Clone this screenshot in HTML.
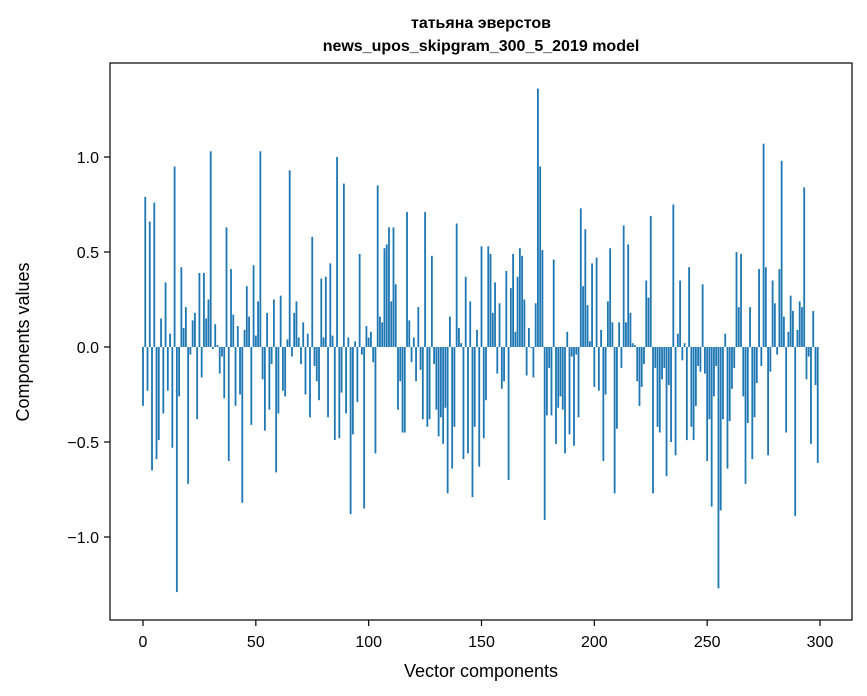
<!DOCTYPE html>
<html><head><meta charset="utf-8"><style>
html,body{margin:0;padding:0;background:#fff;}
svg{display:block;font-family:"Liberation Sans","DejaVu Sans",sans-serif;}
</style></head><body>
<svg id="chart" width="867" height="696" viewBox="0 0 867 696">
<text x="481" y="28" text-anchor="middle" font-size="16" font-weight="bold">татьяна эверстов</text>
<text x="481" y="51" text-anchor="middle" font-size="16" font-weight="bold">news_upos_skipgram_300_5_2019 model</text>
<g id="bars"></g>
<rect x="110" y="63" width="742" height="557" fill="none" stroke="#000" stroke-width="1.2"/>
<g id="xticks"></g>
<g id="yticks"></g>
<text x="481" y="677" text-anchor="middle" font-size="18">Vector components</text>
<text transform="translate(29,342) rotate(-90)" text-anchor="middle" font-size="18">Components values</text>
</svg>
<script>
const values = [
-0.31,0.79,-0.23,0.66,-0.65,0.76,-0.59,-0.49,0.15,-0.35,
0.34,-0.23,0.07,-0.53,0.95,-1.29,-0.26,0.42,0.10,0.21,
-0.72,-0.04,0.14,0.18,-0.38,0.39,-0.16,0.39,0.15,0.25,
1.03,-0.01,0.12,0.01,-0.14,-0.05,-0.27,0.63,-0.60,0.41,
0.17,-0.31,0.11,-0.25,-0.82,0.09,0.32,0.16,-0.41,0.43,
0.06,0.24,1.03,-0.17,-0.44,0.18,-0.33,-0.09,0.25,-0.66,
-0.35,0.27,-0.23,-0.26,0.04,0.93,-0.05,0.18,0.24,0.05,
-0.09,0.13,-0.25,0.07,-0.37,0.58,-0.10,-0.18,-0.28,0.36,
0.05,0.37,-0.37,0.44,0.06,-0.49,1.00,-0.48,-0.24,0.86,
-0.35,0.05,-0.88,-0.46,0.03,-0.29,0.49,-0.04,-0.85,0.11,
0.05,0.08,-0.08,-0.56,0.85,0.16,0.13,0.52,0.54,0.63,
0.24,0.63,0.33,-0.33,-0.18,-0.45,-0.45,0.71,0.14,-0.08,
0.05,-0.18,0.21,-0.12,-0.38,0.71,-0.42,-0.38,0.48,-0.09,
-0.33,-0.47,-0.37,-0.51,-0.32,-0.77,0.16,-0.64,-0.42,0.65,
0.10,0.02,-0.59,0.37,-0.56,0.24,-0.79,-0.42,0.09,-0.63,
0.53,-0.48,-0.28,0.53,0.49,0.18,0.34,-0.14,0.23,-0.22,
-0.18,0.40,-0.70,0.31,0.49,0.08,0.37,0.52,0.48,0.25,
-0.15,0.10,-0.005,-0.16,0.23,1.36,0.95,0.51,-0.91,-0.36,
-0.11,-0.36,0.46,-0.51,-0.32,-0.26,-0.33,-0.56,0.08,-0.46,
-0.05,-0.52,-0.04,-0.37,0.73,0.32,0.62,0.22,0.03,0.44,
-0.21,0.47,-0.23,0.09,-0.60,-0.25,0.24,0.52,0.13,-0.77,
-0.43,0.13,-0.11,0.64,0.13,0.54,0.18,0.02,0.01,-0.18,
-0.31,-0.21,-0.09,0.35,0.26,0.69,-0.77,-0.11,-0.42,-0.45,
-0.17,-0.11,-0.68,-0.20,-0.50,0.75,-0.57,0.07,0.35,-0.07,
0.02,-0.49,0.42,-0.42,-0.49,-0.31,-0.10,-0.13,0.33,-0.14,
-0.60,-0.38,-0.84,-0.26,-0.10,-1.27,-0.86,-0.38,0.07,-0.64,
-0.39,-0.22,-0.11,0.50,0.21,0.49,-0.26,-0.72,-0.40,0.21,
-0.59,-0.37,-0.19,0.41,-0.10,1.07,0.42,-0.57,-0.13,0.35,
0.23,-0.04,0.41,0.98,0.16,-0.45,0.08,0.27,0.19,-0.89,
0.09,0.24,0.21,0.84,-0.17,-0.05,-0.51,0.19,-0.20,-0.61
];
const xTicks = [0,50,100,150,200,250,300];
const yTicks = [-1.0,-0.5,0.0,0.5,1.0];
const yTickLabels = ["\u22121.0","\u22120.5","0.0","0.5","1.0"];

const NS = "http://www.w3.org/2000/svg";
function xScale(v){ return 143 + v * (677/300); }
function yScale(v){ return 347 - v * 190; }

const barsG = document.getElementById('bars');
values.forEach((v,i)=>{
  const r = document.createElementNS(NS,'rect');
  const w = 0.8*(677/300);
  const y0 = yScale(0), y1 = yScale(v);
  r.setAttribute('x', xScale(i) - w/2);
  r.setAttribute('width', w);
  r.setAttribute('y', Math.min(y0,y1));
  r.setAttribute('height', Math.max(Math.abs(y1-y0),0.3));
  r.setAttribute('fill', '#1f77b4');
  
  
  barsG.appendChild(r);
});

const xg = document.getElementById('xticks');
xTicks.forEach(t=>{
  const x = xScale(t);
  const l = document.createElementNS(NS,'line');
  l.setAttribute('x1',x); l.setAttribute('x2',x);
  l.setAttribute('y1',620); l.setAttribute('y2',626);
  l.setAttribute('stroke','#000'); l.setAttribute('stroke-width','1.2');
  
  
  xg.appendChild(l);
  const tx = document.createElementNS(NS,'text');
  tx.setAttribute('x',x); tx.setAttribute('y',647);
  tx.setAttribute('text-anchor','middle'); tx.setAttribute('font-size','16');
  tx.textContent = String(t);
  
  
  xg.appendChild(tx);
});

const yg = document.getElementById('yticks');
yTicks.forEach((t,i)=>{
  const y = yScale(t);
  const l = document.createElementNS(NS,'line');
  l.setAttribute('x1',104); l.setAttribute('x2',110);
  l.setAttribute('y1',y); l.setAttribute('y2',y);
  l.setAttribute('stroke','#000'); l.setAttribute('stroke-width','1.2');
  
  
  yg.appendChild(l);
  const tx = document.createElementNS(NS,'text');
  tx.setAttribute('x',99); tx.setAttribute('y',y+6);
  tx.setAttribute('text-anchor','end'); tx.setAttribute('font-size','16');
  tx.textContent = yTickLabels[i];
  
  
  yg.appendChild(tx);
});
</script>
</body></html>
